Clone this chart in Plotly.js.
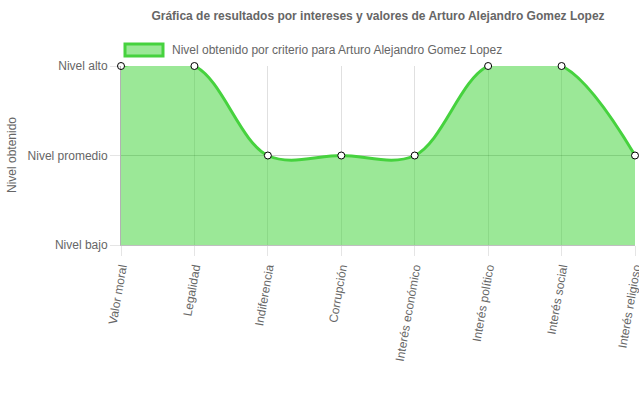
<!DOCTYPE html>
<html>
<head>
<meta charset="utf-8">
<script src="https://cdn.plot.ly/plotly-3.0.1.min.js"></script>
<style>html,body{margin:0;padding:0;background:#fff;}#chart{width:639px;height:396px;}</style>
</head>
<body>
<div id="chart"></div>
<script>
const categories = ["Valor moral", "Legalidad", "Indiferencia", "Corrupción", "Interés económico", "Interés político", "Interés social", "Interés religioso"];
const values = [3, 3, 2, 2, 2, 3, 3, 2];
const levelValues = [1, 2, 3];
const levelLabels = ["Nivel bajo", "Nivel promedio", "Nivel alto"];
const seriesName = "Nivel obtenido por criterio para Arturo Alejandro Gomez Lopez";
const chartTitle = "Gráfica de resultados por intereses y valores de Arturo Alejandro Gomez Lopez";
const yTitle = "Nivel obtenido";

const fontFam = "Liberation Sans, Arial, sans-serif";
const lineColor = "rgb(70,210,62)";
const fillColor = "rgba(55,209,47,0.5)";

const trace = {
  x: categories,
  y: values,
  type: "scatter",
  mode: "lines+markers",
  name: seriesName,
  line: {color: lineColor, width: 3, shape: "spline", smoothing: 1},
  fill: "tozeroy",
  fillcolor: fillColor,
  marker: {size: 7, color: "#fff", line: {color: "#000", width: 1}},
  cliponaxis: false,
  showlegend: false
};

const layout = {
  width: 639, height: 396,
  margin: {l: 121, r: 4, t: 66, b: 151},
  paper_bgcolor: "#fff", plot_bgcolor: "#fff",
  font: {family: fontFam, size: 12, color: "#666"},
  title: {text: "<b>" + chartTitle + "</b>", x: 0.5, xref: "paper", xanchor: "center", y: 0.96, yref: "container", yanchor: "middle", font: {size: 12, color: "#666", family: fontFam}},
  xaxis: {
    type: "category", range: [0, 7],
    showgrid: true, gridcolor: "rgba(0,0,0,0.12)", gridwidth: 1,
    showline: true, linecolor: "rgba(0,0,0,0.25)", linewidth: 1,
    ticks: "outside", ticklen: 10, tickcolor: "rgba(0,0,0,0.1)",
    tickangle: -80, tickfont: {size: 12, color: "#666"},
    zeroline: false, fixedrange: true
  },
  yaxis: {
    range: [1, 3], tickvals: levelValues, ticktext: levelLabels,
    showgrid: true, gridcolor: "rgba(0,0,0,0.2)", gridwidth: 1,
    showline: true, linecolor: "rgba(0,0,0,0.3)", linewidth: 1,
    ticks: "outside", ticklen: 10, tickcolor: "rgba(0,0,0,0.1)",
    tickfont: {size: 12, color: "#666"},
    zeroline: false, fixedrange: true
  },
  shapes: [
    {type: "rect", xref: "paper", yref: "paper",
     x0: (125 - 121) / 514, x1: (163 - 121) / 514,
     y0: (396 - 151 - 56) / 179, y1: (396 - 151 - 44) / 179,
     fillcolor: fillColor, line: {color: lineColor, width: 3}}
  ],
  annotations: [
    {text: seriesName, xref: "paper", yref: "paper",
     x: (170 - 121) / 514, y: (396 - 151 - 50) / 179,
     xanchor: "left", yanchor: "middle", showarrow: false,
     font: {size: 12, color: "#666", family: fontFam}},
    {text: yTitle, xref: "paper", yref: "paper",
     x: (12 - 121) / 514, y: (396 - 151 - 155) / 179,
     xanchor: "center", yanchor: "middle", textangle: -90, showarrow: false,
     font: {size: 12, color: "#666", family: fontFam}}
  ]
};

Plotly.newPlot("chart", [trace], layout, {displayModeBar: false, staticPlot: true});
</script>
</body>
</html>
